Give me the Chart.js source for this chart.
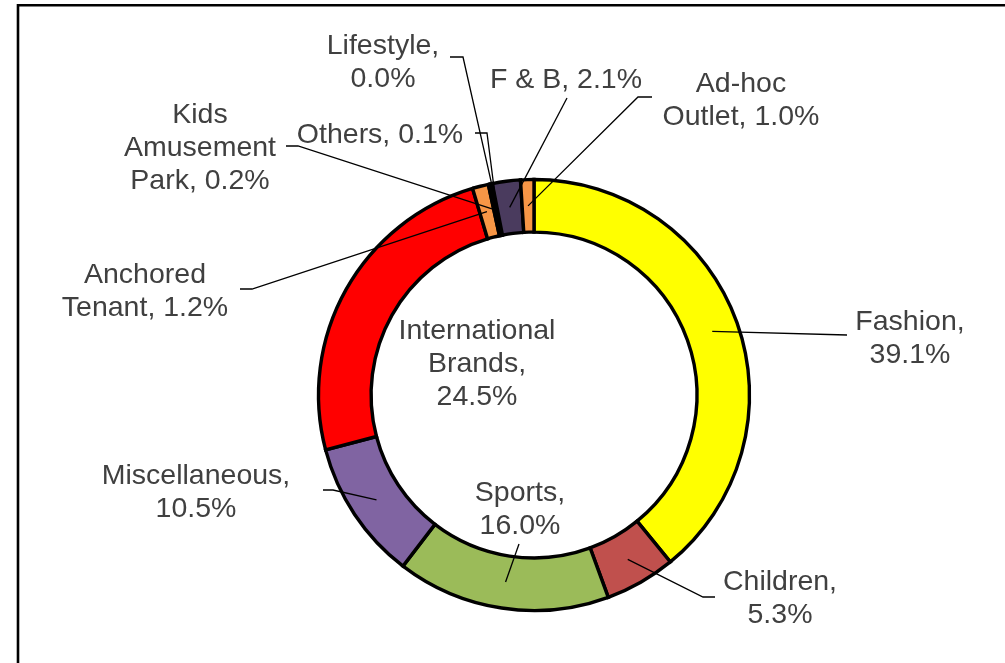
<!DOCTYPE html>
<html>
<head>
<meta charset="utf-8">
<script src="https://cdn.jsdelivr.net/npm/chart.js@4"></script>
<style>
  html, body { margin: 0; padding: 0; background: #fff; }
  #wrap { width: 1005px; height: 663px; position: relative; }
</style>
</head>
<body>
<div id="wrap"><canvas id="chart" width="1005" height="663"></canvas></div>
<script>
// data
const categories = ['Fashion', 'Children', 'Sports', 'Miscellaneous', 'International Brands',
   'Anchored Tenant', 'Kids Amusement Park', 'Others', 'Lifestyle', 'F & B', 'Ad-hoc Outlet'];
const shares = [39.1, 5.3, 16.0, 10.5, 24.5, 1.2, 0.2, 0.1, 0.0, 2.1, 1.0];
const colors = ['#FFFF00', '#C0504D', '#9BBB59', '#8064A2', '#FF0000',
   '#F79646', '#1F1F1F', '#262626', '#333333', '#4A3B5E', '#F79646'];

// label layout: text block centre and leader bend points, relative to the ring centre
// words = how many words go on each line of "Name, 12.3%"
const labelLayout = [
   { words: [1, 1], at: [376, -59], leader: [[313, -60]] },
   { words: [1, 1], at: [246, 201], leader: [[169, 202], [181, 202]] },
   { words: [1, 1], at: [-14, 112], leader: [[-15, 149]] },
   { words: [1, 1], at: [-338, 95], leader: [[-201, 95], [-211, 95]] },
   { words: [1, 1, 1], at: [-57, -33], leader: [] },
   { words: [1, 2], at: [-389, -106], leader: [[-282, -106], [-294, -106]] },
   { words: [1, 1, 2], at: [-334, -249], leader: [[-236, -249], [-248, -249]] },
   { words: [2], at: [-154, -262], leader: [[-47, -262], [-59, -262]] },
   { words: [1, 1], at: [-151, -335], leader: [[-71, -338], [-84, -338]] },
   { words: [4], at: [32, -317], leader: [[33, -297]] },
   { words: [1, 2], at: [207, -297], leader: [[104, -298], [118, -298]] }
];

function labelLines(i) {
   const words = (categories[i] + ', ' + shares[i].toFixed(1) + '%').split(' ');
   const lines = [];
   let k = 0;
   labelLayout[i].words.forEach(n => {
      lines.push(words.slice(k, k + n).join(' '));
      k += n;
   });
   return lines;
}

const framePlugin = {
   id: 'frame',
   beforeDraw(chart) {
      const ctx = chart.ctx;
      ctx.save();
      ctx.strokeStyle = '#000';
      ctx.lineWidth = 2.6;
      ctx.beginPath();
      ctx.moveTo(18, 663);
      ctx.lineTo(18, 5.3);
      ctx.lineTo(1005, 5.3);
      ctx.stroke();
      ctx.restore();
   }
};

const labelPlugin = {
   id: 'sliceLabels',
   afterDatasetsDraw(chart) {
      const ctx = chart.ctx;
      const meta = chart.getDatasetMeta(0);
      ctx.save();
      meta.data.forEach((arc, i) => {
         const p = arc.getProps(['x', 'y', 'startAngle', 'endAngle', 'innerRadius', 'outerRadius'], true);
         const mid = (p.startAngle + p.endAngle) / 2;
         const r = (p.innerRadius + p.outerRadius) / 2;
         const lay = labelLayout[i];

         // leader line from the middle of the slice
         if (lay.leader.length) {
            ctx.strokeStyle = '#000';
            ctx.lineWidth = 1.3;
            ctx.beginPath();
            ctx.moveTo(p.x + Math.cos(mid) * r, p.y + Math.sin(mid) * r);
            lay.leader.forEach(pt => ctx.lineTo(p.x + pt[0], p.y + pt[1]));
            ctx.stroke();
         }

         // text
         const lines = labelLines(i);
         const lh = 33;
         ctx.fillStyle = '#404040';
         ctx.font = '28.5px "Liberation Sans", Arial, sans-serif';
         ctx.textAlign = 'center';
         ctx.textBaseline = 'middle';
         lines.forEach((ln, j) => {
            const y = p.y + lay.at[1] + 2.5 + (j - (lines.length - 1) / 2) * lh;
            ctx.fillText(ln, p.x + lay.at[0], y);
         });
      });
      ctx.restore();
   }
};

new Chart(document.getElementById('chart'), {
   type: 'doughnut',
   data: {
      labels: categories,
      datasets: [{
         data: shares,
         backgroundColor: colors,
         borderColor: '#000',
         borderWidth: 3.4,
         borderJoinStyle: 'miter'
      }]
   },
   options: {
      responsive: false,
      animation: false,
      radius: 215.5,
      cutout: '75.6%',
      layout: { padding: { left: 234, right: 171, top: 145, bottom: 18 } },
      plugins: {
         legend: { display: false },
         tooltip: { enabled: false }
      }
   },
   plugins: [framePlugin, labelPlugin]
});
</script>
</body>
</html>
